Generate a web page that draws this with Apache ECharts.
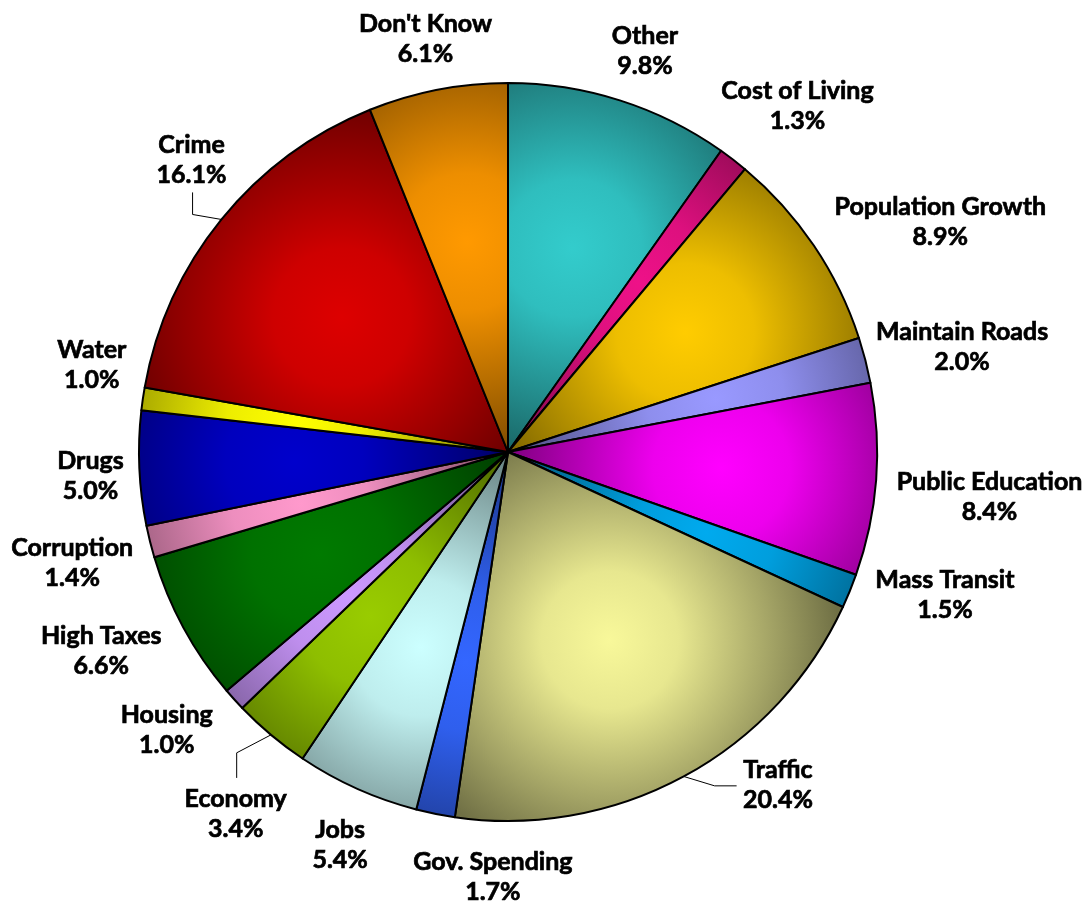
<!DOCTYPE html>
<html>
<head>
<meta charset="utf-8">
<script src="https://cdn.jsdelivr.net/npm/echarts@6/dist/echarts.min.js"></script>
<style>
  html, body { margin: 0; padding: 0; background: #fff; }
  #pie { width: 1092px; height: 905px; }
</style>
</head>
<body>
<div id="pie"></div>
<script>
// 各项占比（%）
const categories = ['Other', 'Cost of Living', 'Population Growth', 'Maintain Roads', 'Public Education',
  'Mass Transit', 'Traffic', 'Gov. Spending', 'Jobs', 'Economy', 'Housing', 'High Taxes',
  'Corruption', 'Drugs', 'Water', 'Crime', "Don't Know"]
const values = [9.8, 1.3, 8.9, 2.0, 8.4, 1.5, 20.4, 1.7, 5.4, 3.4, 1.0, 6.6, 1.4, 5.0, 1.0, 16.1, 6.1]
const colors = ['#33cccc', '#ee1188', '#ffcc00', '#9999ff', '#ff00ff', '#00aaee', '#f8f89a', '#3366ff',
  '#ccffff', '#99cc00', '#cc99ff', '#007a00', '#ff99cc', '#0000cc', '#ffff00', '#dd0000', '#ff9900']
// 标签的角度微调（度）和离饼边缘的距离
const labelNudge = [1.2, 2.3, 6, 1.4, 1, -4, -10.6, -9.3, -1, -3, 3, 2.4, -0.3, -0.8, 3.6, 3.6, -0.3]
const labelGap = [16, 10, 13, 6, 19, 15, 14, 23, 20, 29, 16, 16, 14, 14, 16, 15, 10]
const withLine = ['Crime', 'Traffic', 'Economy']

const cx = 508
const cy = 452
const R = 369

// 颜色变暗
function shade (hex, k) {
  const n = parseInt(hex.slice(1), 16)
  const r = Math.round(((n >> 16) & 255) * k)
  const g = Math.round(((n >> 8) & 255) * k)
  const b = Math.round((n & 255) * k)
  return 'rgb(' + r + ',' + g + ',' + b + ')'
}

const chart = echarts.init(document.getElementById('pie'))
const total = values.reduce((a, b) => a + b, 0)
const midAngle = []
let acc = 0
values.forEach(v => {
  midAngle.push((acc + v / 2) / total * 360)
  acc += v
})

const seriesData = categories.map((name, i) => {
  const c = colors[i]
  const m = midAngle[i] * Math.PI / 180
  // 高光中心放在扇区中部
  return {
    name: name,
    value: values[i],
    itemStyle: {
      color: {
        type: 'radial',
        x: cx + 0.58 * R * Math.sin(m),
        y: cy - 0.58 * R * Math.cos(m),
        r: 0.62 * R,
        global: true,
        colorStops: [
          { offset: 0, color: c },
          { offset: 0.3, color: shade(c, 0.93) },
          { offset: 0.7, color: shade(c, 0.66) },
          { offset: 1, color: shade(c, 0.45) }
        ]
      }
    },
    labelLine: { show: withLine.indexOf(name) >= 0 }
  }
})

const option = {
  backgroundColor: '#fff',
  animation: false,
  series: [{
    type: 'pie',
    center: [cx, cy],
    radius: R,
    startAngle: 90,
    clockwise: true,
    avoidLabelOverlap: false,
    data: seriesData,
    itemStyle: {
      borderColor: '#000',
      borderWidth: 2
    },
    label: {
      show: true,
      position: 'outside',
      formatter: p => p.name + '\n' + p.value.toFixed(1) + '%',
      fontFamily: 'Lato',
      fontWeight: 'bold',
      fontSize: 25,
      lineHeight: 30,
      color: '#000',
      textBorderColor: '#000',
      textBorderWidth: 0.7
    },
    labelLine: {
      show: false,
      lineStyle: { color: '#000', width: 1 }
    },
    labelLayout: function (params) {
      const i = params.dataIndex
      const w = params.labelRect.width
      const h = params.labelRect.height
      const a = (midAngle[i] + labelNudge[i]) * Math.PI / 180
      const s = Math.sin(a)
      const c = Math.cos(a)
      const ext = Math.abs(s) * w / 2 + Math.abs(c) * h / 2
      const d = R + labelGap[i] + ext
      const x = cx + d * s
      const y = cy - d * c
      const res = { x: x, y: y, align: 'center', verticalAlign: 'middle' }
      const name = categories[i]
      if (withLine.indexOf(name) >= 0) {
        const m = midAngle[i] * Math.PI / 180
        const p0 = [cx + R * Math.sin(m), cy - R * Math.cos(m)]
        if (name === 'Crime') {
          res.labelLinePoints = [p0, [x + 1, p0[1] - 5], [x + 1, y + h / 2 + 2]]
        } else if (name === 'Traffic') {
          const ex = x - w / 2 - 6
          res.labelLinePoints = [p0, [ex - 22, y + 1], [ex, y + 1]]
        } else {
          res.labelLinePoints = [p0, [x + 1, p0[1] + 18], [x + 1, y - h / 2 - 6]]
        }
      }
      return res
    }
  }]
}
chart.setOption(option)
</script>
</body>
</html>
